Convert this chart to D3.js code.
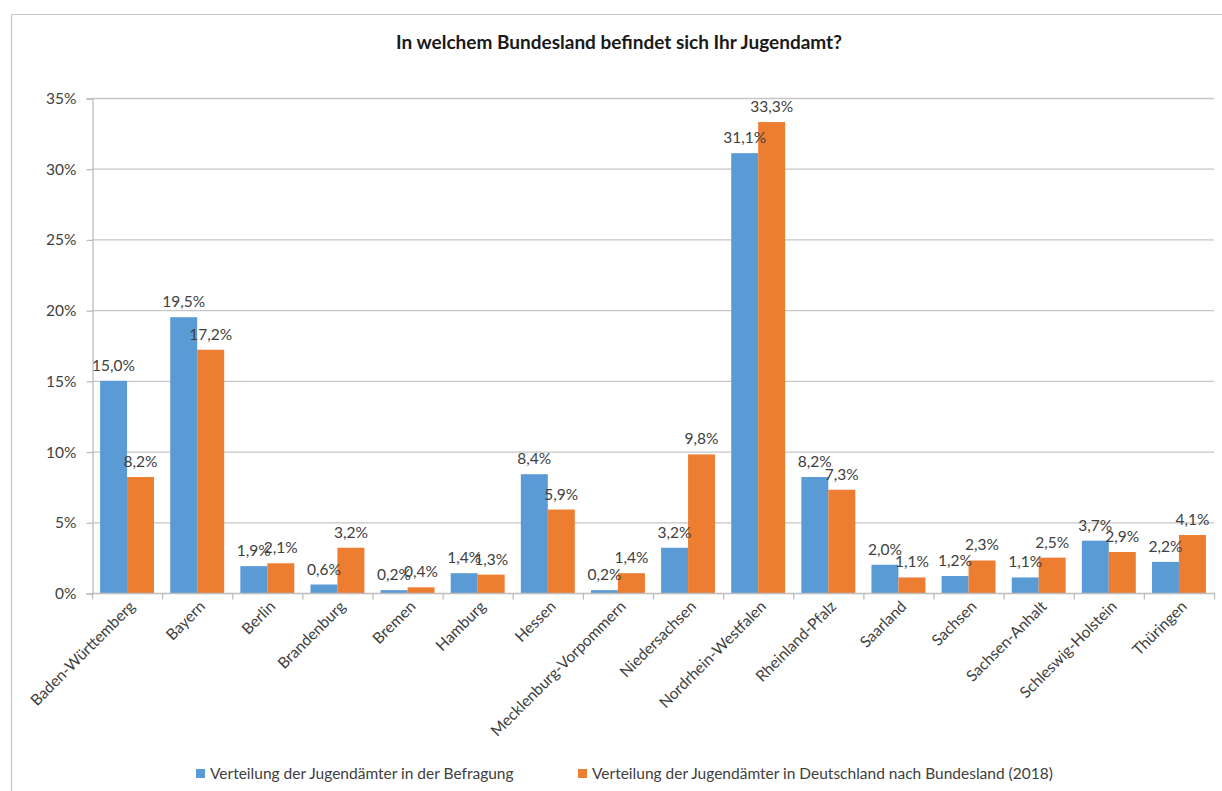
<!DOCTYPE html>
<html>
<head>
<meta charset="utf-8">
<script src="https://cdn.jsdelivr.net/npm/d3@7"></script>
<style>
  body { margin: 0; background: #fff; }
  svg text { font-family: Lato, "Open Sans", sans-serif; fill: #404040; }
</style>
</head>
<body>
<svg id="chart" width="1222" height="791"></svg>
<script>
// data
const laender = ["Baden-Württemberg", "Bayern", "Berlin", "Brandenburg", "Bremen", "Hamburg", "Hessen",
  "Mecklenburg-Vorpommern", "Niedersachsen", "Nordrhein-Westfalen", "Rheinland-Pfalz", "Saarland",
  "Sachsen", "Sachsen-Anhalt", "Schleswig-Holstein", "Thüringen"];
const befragung = [15.0, 19.5, 1.9, 0.6, 0.2, 1.4, 8.4, 0.2, 3.2, 31.1, 8.2, 2.0, 1.2, 1.1, 3.7, 2.2];
const deutschland = [8.2, 17.2, 2.1, 3.2, 0.4, 1.3, 5.9, 1.4, 9.8, 33.3, 7.3, 1.1, 2.3, 2.5, 2.9, 4.1];
const yTicks = [0, 5, 10, 15, 20, 25, 30, 35];
const serien = ["Verteilung der Jugendämter in der Befragung",
  "Verteilung der Jugendämter in Deutschland nach Bundesland (2018)"];
const farben = ["#5b9bd5", "#ed7d31"];

let svg = d3.select("#chart");
let fs = "15.5px";

// outer frame (only top + left visible in the picture)
svg.append("path")
    .attr("d", "M11.5,791 V14.5 H1222")
    .attr("fill", "none")
    .attr("stroke", "#c8c8c8")
    .attr("stroke-width", 1.2);

svg.append("text")
    .attr("x", 619)
    .attr("y", 49)
    .attr("text-anchor", "middle")
    .style("font-size", "19px")
    .style("font-weight", "bold")
    .style("fill", "#1a1a1a")
    .text("In welchem Bundesland befindet sich Ihr Jugendamt?");

let x0 = 92, x1 = 1214, yTop = 98, yBot = 593;

let x = d3.scaleBand().domain(laender).range([x0, x1]);
let xs = d3.scaleBand().domain([0, 1]).range([0, x.bandwidth()]).paddingOuter(0.3).paddingInner(0);
let y = d3.scaleLinear().domain([0, 35]).range([yBot, yTop]);

// gridlines
svg.append("g")
  .selectAll("line")
  .data(yTicks.filter(d => d > 0))
  .enter().append("line")
    .attr("x1", x0).attr("x2", x1)
    .attr("y1", d => y(d) + 0.5).attr("y2", d => y(d) + 0.5)
    .attr("stroke", "#c6c6c6")
    .attr("stroke-width", 1.3);

// y axis
let yAxis = svg.append("g")
    .attr("transform", "translate(" + (x0 + 0.5) + ",0.5)")
    .call(d3.axisLeft(y).tickValues(yTicks).tickSize(6).tickPadding(10).tickFormat(d => d + "%"));
yAxis.select(".domain").attr("stroke", "#bdbdbd").attr("stroke-width", 1.3);
yAxis.selectAll(".tick line").attr("stroke", "#bdbdbd").attr("stroke-width", 1.3);
yAxis.selectAll(".tick text").style("font-size", fs).style("font-family", "Lato, sans-serif").attr("fill", "#404040");

// bars
let groups = svg.append("g")
  .selectAll("g")
  .data(laender)
  .enter().append("g")
    .attr("transform", d => "translate(" + x(d) + ",0)");

groups.selectAll("rect")
  .data((d, i) => [befragung[i], deutschland[i]])
  .enter().append("rect")
    .attr("x", (d, j) => xs(j))
    .attr("width", xs.bandwidth())
    .attr("y", d => y(d))
    .attr("height", d => yBot - y(d))
    .attr("fill", (d, j) => farben[j]);

let fmt = d => d3.format(".1f")(d).replace(".", ",") + "%";

groups.selectAll("text.wert")
  .data((d, i) => [befragung[i], deutschland[i]])
  .enter().append("text")
    .attr("class", "wert")
    .attr("x", (d, j) => xs(j) + xs.bandwidth() / 2)
    .attr("y", d => y(d) - 10)
    .attr("text-anchor", "middle")
    .style("font-size", fs)
    .text(fmt);

// x axis
let xAxis = svg.append("g")
    .attr("transform", "translate(0," + (yBot + 0.5) + ")");
xAxis.append("line")
    .attr("x1", x0).attr("x2", x1 + 1)
    .attr("stroke", "#bdbdbd").attr("stroke-width", 1.3);
xAxis.selectAll("line.tick")
  .data(laender.concat([null]))
  .enter().append("line")
    .attr("class", "tick")
    .attr("x1", d => d === null ? x1 + 0.5 : x(d) + 0.5)
    .attr("x2", d => d === null ? x1 + 0.5 : x(d) + 0.5)
    .attr("y1", 0).attr("y2", 6)
    .attr("stroke", "#bdbdbd").attr("stroke-width", 1.3);
xAxis.selectAll("text")
  .data(laender)
  .enter().append("text")
    .attr("text-anchor", "end")
    .attr("transform", d => "translate(" + (x(d) + x.bandwidth() / 2 + 9) + ",14) rotate(-45)")
    .style("font-size", fs)
    .text(d => d);

// legend
let legendX = [196, 578];
let legend = svg.append("g")
  .selectAll("g")
  .data(serien)
  .enter().append("g")
    .attr("transform", (d, i) => "translate(" + legendX[i] + ",769)");
legend.append("rect")
    .attr("width", 9).attr("height", 9)
    .attr("fill", (d, i) => farben[i]);
legend.append("text")
    .attr("x", 14)
    .attr("y", 10)
    .style("font-size", fs)
    .text(d => d);
</script>
</body>
</html>
